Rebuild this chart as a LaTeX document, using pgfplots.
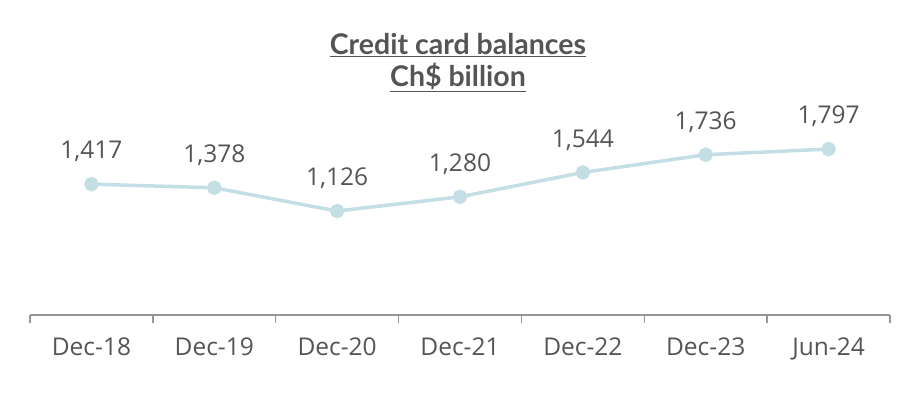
\documentclass[border=0pt]{standalone}
\usepackage{pgfplots}
\pgfplotsset{compat=1.18}
\usepackage{fontspec}
\setmainfont{Open Sans}
\newfontfamily\titlefont{Lato}
\definecolor{linec}{RGB}{196,222,230}
\definecolor{txt}{RGB}{85,85,85}
\definecolor{axc}{RGB}{150,150,150}
\begin{document}
\begin{tikzpicture}[x=1pt,y=1pt]
\useasboundingbox (-30,-77) rectangle (890,315);
\begin{axis}[
  at={(0,0)}, anchor=south west,
  scale only axis, width=860pt, height=277pt,
  xmin=-0.5, xmax=6.5, ymin=0, ymax=3000,
  axis y line=none, axis x line*=bottom,
  axis line style={axc, line width=1.5pt},
  xtick={0,...,6},
  xticklabels={Dec-18,Dec-19,Dec-20,Dec-21,Dec-22,Dec-23,Jun-24},
  major tick length=0pt,
  minor xtick={-0.5,0.5,...,6.5},
  minor tick length=8pt,
  tick align=outside,
  minor tick style={axc, line width=1.5pt},
  xticklabel style={font=\fontsize{24.5}{28}\selectfont, text=txt, yshift=-19pt},
  clip=false,
]
\addplot[linec, line width=3.5pt, mark=*, mark size=5.5pt, mark options={fill=linec, draw=linec},
  point meta=explicit symbolic,
  nodes near coords,
  nodes near coords style={font=\fontsize{24.5}{28}\selectfont, text=txt, anchor=south, yshift=17pt}]
coordinates {
(0,1417) [1,417]
(1,1378) [1,378]
(2,1126) [1,126]
(3,1280) [1,280]
(4,1544) [1,544]
(5,1736) [1,736]
(6,1797) [1,797]
};
\end{axis}
\node[font=\titlefont\bfseries\fontsize{28.5}{32}\selectfont, text=txt, align=center] at (428,270) {\underline{Credit card balances}};
\node[font=\titlefont\bfseries\fontsize{28.5}{32}\selectfont, text=txt, align=center] at (428,238) {\underline{Ch\$ billion}};
\end{tikzpicture}
\end{document}
